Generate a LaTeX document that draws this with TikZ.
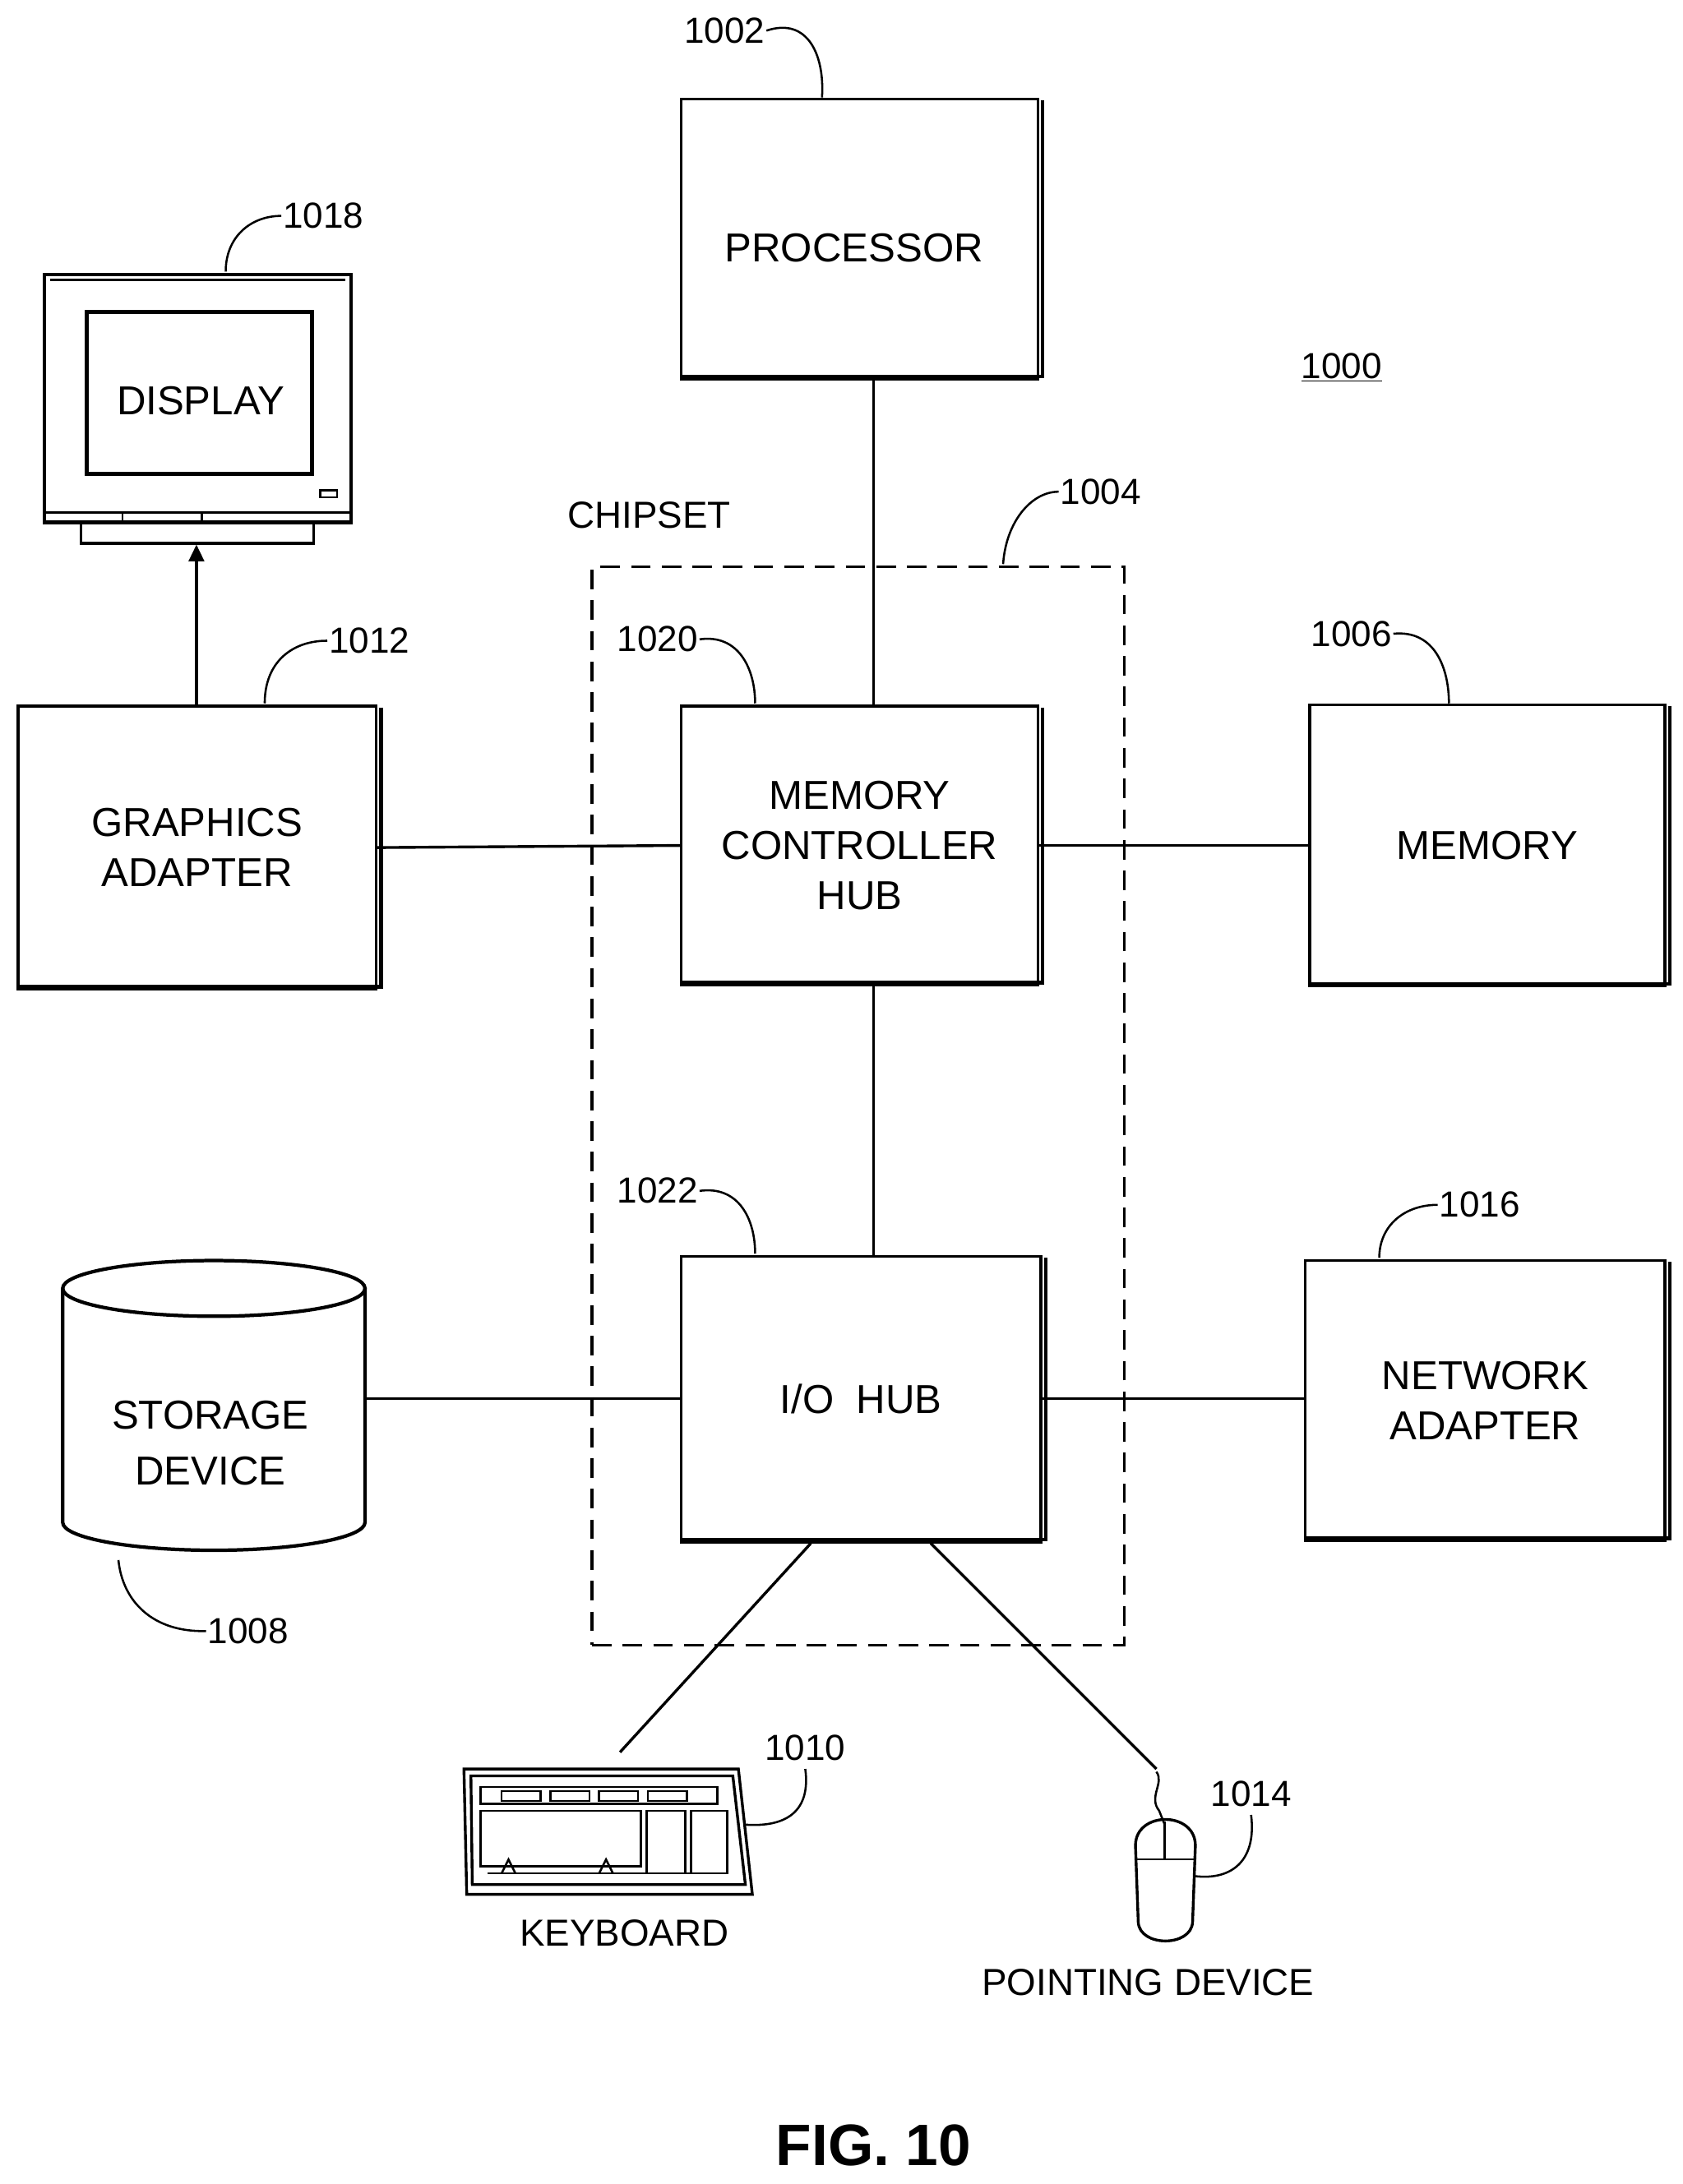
\documentclass[tikz,border=0pt]{standalone}
\usepackage{fontspec}
\setmainfont{Liberation Sans}
\usetikzlibrary{arrows.meta}
\begin{document}
\begin{tikzpicture}[x=1pt,y=-1pt,
  box/.style={draw,line width=2pt,align=center,font=\fontsize{29}{36}\selectfont,inner sep=0pt},
  lbl/.style={font=\fontsize{26}{30}\selectfont,inner sep=1pt},
  ln/.style={line width=2pt},
  lead/.style={line width=1.5pt}]
\useasboundingbox (0,0) rectangle (1208,1568);
% boxes
\node[box,minimum width=256pt,minimum height=201pt] (proc) at (617,171.5) {};
\node[font=\fontsize{29}{36}\selectfont] (proct) at (613,178) {PROCESSOR};
\node[box,minimum width=257pt,minimum height=203pt] (gfx) at (141.5,608.5) {GRAPHICS\\ADAPTER};
\node[box,minimum width=256pt,minimum height=200pt] (mch) at (617,607) {MEMORY\\CONTROLLER\\HUB};
\node[box,minimum width=255pt,minimum height=202pt] (mem) at (1067.5,607) {MEMORY};
\node[box,minimum width=258pt,minimum height=205pt] (io) at (618,1004.5) {I/O\ \ HUB};
\node[box,minimum width=258pt,minimum height=201pt] (net) at (1066,1005.5) {NETWORK\\ADAPTER};
\foreach \n in {proc,gfx,mch,mem,io,net}{
  \draw[line width=2.5pt] ([xshift=2.5pt,yshift=-2pt]\n.north east) -- ([xshift=2.5pt,yshift=2.5pt]\n.south east) -- ([xshift=2pt,yshift=2.5pt]\n.south west);
}
% chipset
\node[draw,dashed,line width=2pt,dash pattern=on 14pt off 8pt,minimum width=382pt,minimum height=774pt,inner sep=0pt] (chip) at (616,794) {};
\node[lbl,font=\fontsize{27}{30}\selectfont] (chipt) at (466,370) {CHIPSET};
% storage cylinder
\draw[line width=2.5pt,fill=white] (45,925) -- (45,1093) arc[start angle=180,end angle=360,x radius=108.5pt,y radius=20pt] -- (262,925);
\draw[line width=2.5pt] (153.5,925) ellipse[x radius=108.5pt,y radius=20pt];
\node[font=\fontsize{29}{40}\selectfont,align=center] (sto) at (151,1036) {STORAGE\\DEVICE};
\coordinate (stR) at (262,1004);
% display
\draw[line width=2.5pt] (32,197) rectangle (252,375);
\draw[line width=1.5pt] (36,201) -- (248,201);
\draw[line width=3pt] (62,224) rectangle (224,340);
\draw[line width=1.5pt] (32,368) -- (252,368);
\draw[line width=1.5pt] (88,368) -- (88,375) (145,368) -- (145,375);
\draw[line width=1.5pt] (230,352) rectangle (242,357);
\draw[line width=2pt] (58,375) rectangle (225,390);
\node[font=\fontsize{29}{34}\selectfont] (disp) at (144,288) {DISPLAY};
\coordinate (dispB) at (141,391);
% keyboard
\begin{scope}[line width=2pt]
\draw (333,1270) -- (335,1360) -- (540,1360) -- (530,1270) -- cycle;
\draw (338,1275) -- (339,1353) -- (535,1353) -- (526,1275) -- cycle;
\draw[line width=1.5pt] (345,1283) rectangle (515,1295);
\foreach \x in {360,395,430,465} \draw[line width=1.5pt] (\x,1286) rectangle (\x+28,1293);
\draw[line width=1.5pt] (345,1300) rectangle (460,1340);
\draw[line width=1.5pt] (464,1300) rectangle (492,1345);
\draw[line width=1.5pt] (496,1300) rectangle (522,1345);
\draw[line width=1.5pt] (350,1345) -- (520,1345);
\draw[line width=1.5pt] (360,1345) -- (365,1335) -- (370,1345) (430,1345) -- (435,1335) -- (440,1345);
\end{scope}
\coordinate (kbT) at (445,1258);
\node[font=\fontsize{27}{30}\selectfont] (kbd) at (448,1388) {KEYBOARD};
% mouse
\draw[line width=1.5pt] (830,1272) .. controls (836,1280) and (824,1290) .. (832,1300) -- (836,1310);
\draw[line width=2pt] (815,1325) .. controls (815,1300) and (858,1300) .. (858,1325) -- (856,1380) .. controls (855,1398) and (818,1398) .. (817,1380) -- cycle;
\draw[line width=1.5pt] (816,1335) -- (857,1335) (836,1308) -- (836,1335);
\coordinate (msT) at (830,1270);
\node[font=\fontsize{27}{30}\selectfont] (pd) at (824,1423) {POINTING DEVICE};
% connectors
\coordinate (vx) at (627,0);
\draw[ln] (proc.south -| vx) -- (mch.north -| vx);
\draw[ln] (mch.south -| vx) -- (io.north -| vx);
\draw[ln] (gfx.east) -- (mch.west);
\draw[ln] (mch.east) -- (mem.west);
\draw[ln] (stR) -- (io.west |- stR);
\draw[ln] (io.east |- stR) -- (net.west |- stR);
\draw[ln] (io.south -| 582,0) -- (kbT);
\draw[ln] (io.south -| 668,0) -- (msT);
\draw[ln,-{Triangle[length=12pt,width=11pt]}] (gfx.north -| dispB) -- (dispB);
% labels
\node[lbl] (l1002) at (520,22) {1002};
\draw[lead] (l1002.east) .. controls (580,12) and (592,40) .. (590,70);
\node[lbl] (l1018) at (232,155) {1018};
\draw[lead] (l1018.west) .. controls (180,155) and (162,170) .. (162,195);
\node[lbl] (l1012) at (265,460) {1012};
\draw[lead] (l1012.west) .. controls (210,460) and (190,475) .. (190,505);
\node[lbl] (l1004) at (790,353) {1004};
\draw[lead] (l1004.west) .. controls (740,353) and (722,375) .. (720,405);
\node[lbl] (l1020) at (472,459) {1020};
\draw[lead] (l1020.east) .. controls (530,455) and (542,480) .. (542,505);
\node[lbl] (l1006) at (970,455) {1006};
\draw[lead] (l1006.east) .. controls (1030,452) and (1040,480) .. (1040,505);
\node[lbl] (l1022) at (472,855) {1022};
\draw[lead] (l1022.east) .. controls (530,851) and (542,875) .. (542,900);
\node[lbl] (l1016) at (1062,865) {1016};
\draw[lead] (l1016.west) .. controls (1008,865) and (990,880) .. (990,903);
\node[lbl] (l1008) at (178,1171) {1008};
\draw[lead] (l1008.west) .. controls (110,1172) and (88,1150) .. (85,1120);
\node[lbl] (l1010) at (578,1255) {1010};
\draw[lead] (578,1270) .. controls (582,1300) and (565,1312) .. (535,1310);
\node[lbl] (l1014) at (898,1288) {1014};
\draw[lead] (898,1303) .. controls (902,1335) and (885,1350) .. (858,1347);
\node[lbl] (l1000) at (963,264) {\underline{1000}};
\node[font=\bfseries\fontsize{42}{48}\selectfont] (fig) at (627,1540) {FIG. 10};
\end{tikzpicture}
\end{document}
